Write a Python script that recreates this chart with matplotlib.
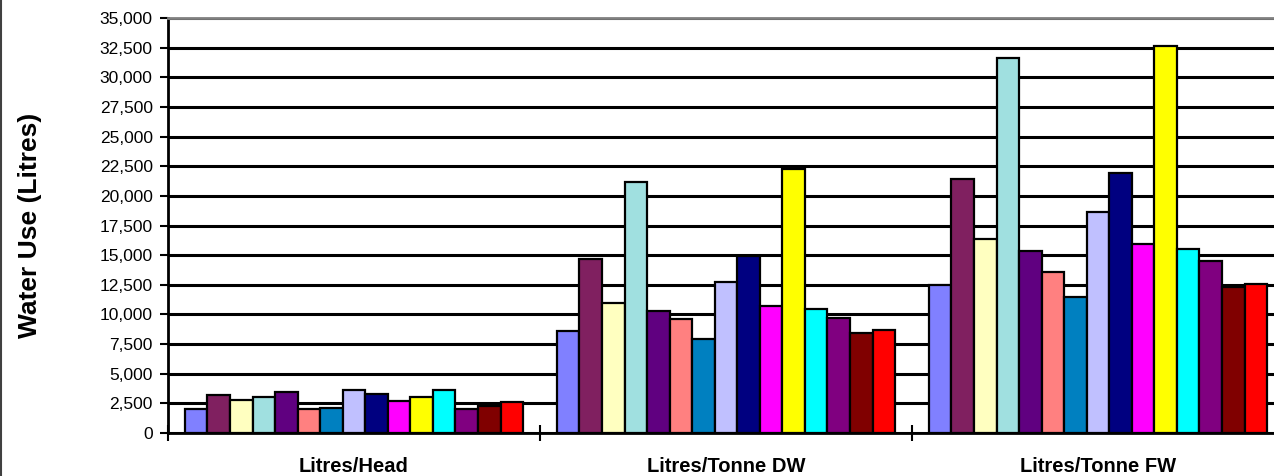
# Water use per head and per tonne (dressed / fresh weight), 15 sites
import numpy as np
import matplotlib
matplotlib.use("Agg")
import matplotlib.pyplot as plt
from matplotlib.ticker import FixedLocator, StrMethodFormatter
from matplotlib.lines import Line2D

plt.rcParams['font.family'] = ['Liberation Sans', 'DejaVu Sans']

categories = ["Litres/Head", "Litres/Tonne DW", "Litres/Tonne FW"]

litres_per_head = [2000, 3200, 2750, 3050, 3500, 2000, 2150, 3650,
                   3250, 2700, 3050, 3600, 2000, 2300, 2600]
litres_per_tonne_dw = [8600, 14700, 11000, 21200, 10300, 9600, 7950, 12750,
                       14900, 10750, 22250, 10450, 9700, 8450, 8700]
litres_per_tonne_fw = [12500, 21450, 16350, 31650, 15350, 13600, 11450, 18600,
                       21900, 15900, 32650, 15500, 14500, 12350, 12600]

bar_colors = ['#8080FF', '#802060', '#FFFFC0', '#A0E0E0', '#600080',
              '#FF8080', '#0080C0', '#C0C0FF', '#000080', '#FF00FF',
              '#FFFF00', '#00FFFF', '#800080', '#800000', '#FF0000']

data = np.array([litres_per_head, litres_per_tonne_dw, litres_per_tonne_fw])
n_series = data.shape[1]

fig = plt.figure(figsize=(12.74, 4.76), dpi=100)
ax = fig.add_axes([168 / 1274, 43 / 476, 1116 / 1274, 415 / 476])

# Excel-style clustered bars, gap width 150%
bar_w = 1.0 / (n_series + 1.5)
x = np.arange(len(categories))
for i in range(n_series):
    offs = (i - (n_series - 1) / 2) * bar_w
    ax.bar(x + offs, data[:, i], width=bar_w, color=bar_colors[i],
           edgecolor='black', linewidth=1.6, zorder=3)

ax.set_xlim(-0.5, 2.5)
ax.set_ylim(0, 35000)
ax.set_yticks(np.arange(0, 35001, 2500))
ax.yaxis.set_major_formatter(StrMethodFormatter('{x:,.0f}'))

# boundaries get the tick marks, the group centres get the labels
ax.xaxis.set_major_locator(FixedLocator([-0.5, 0.5, 1.5, 2.5]))
ax.xaxis.set_minor_locator(FixedLocator(x))
ax.set_xticklabels([])
ax.set_xticklabels(categories, minor=True, fontsize=14.5, fontweight='bold')
ax.tick_params(axis='x', which='major', direction='inout', length=11, width=1.5)
ax.tick_params(axis='x', which='minor', length=0, pad=17)
ax.tick_params(axis='y', direction='out', length=6, width=1.5,
               labelsize=12.5, pad=5)

ax.set_axisbelow(True)
ax.yaxis.grid(True, color='black', linewidth=2.2)

ax.spines['left'].set_linewidth(2)
ax.spines['bottom'].set_linewidth(2)
ax.spines['top'].set_color('#808080')
ax.spines['top'].set_linewidth(2)
ax.spines['right'].set_visible(False)

ax.set_ylabel("Water Use (Litres)", fontsize=19, fontweight='bold')
ax.yaxis.set_label_coords(-126 / 1116, 0.5)

# chart area border on the left edge
fig.add_artist(Line2D([1.5 / 1274, 1.5 / 1274], [0, 1], color='#404040',
                      linewidth=1.5, transform=fig.transFigure))

fig.savefig("out.png", dpi=100)
